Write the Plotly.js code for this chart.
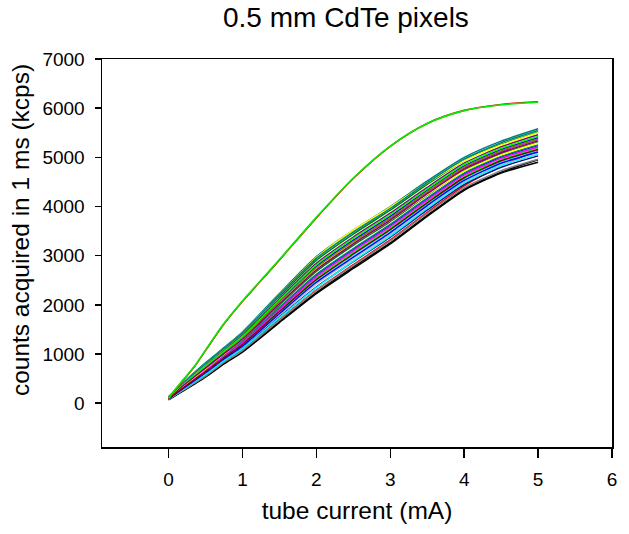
<!DOCTYPE html>
<html>
<head>
<meta charset="utf-8">
<script src="https://cdn.plot.ly/plotly-3.0.1.min.js"></script>
<style>html,body{margin:0;padding:0;background:#fff;}#chart{width:629px;height:534px;}</style>
</head>
<body>
<div id="chart"></div>
<script>
// tube current (mA) sample points for the bundle of pixels
const currentMA = [0, 0.2, 0.5, 0.75, 1, 1.5, 2, 2.5, 3, 3.5, 4, 4.5, 5];
// sample points for the two upper pixels
const currentUpperMA = [0, 0.1, 0.2, 0.35, 0.5, 0.75, 1, 1.25, 1.5, 2, 2.5, 3, 3.5, 4, 4.5, 5];

// counts acquired in 1 ms (kcps), lower bundle
const pix01 = [70, 250, 530, 800, 1040, 1640, 2230, 2740, 3240, 3800, 4330, 4680, 4900];
const pix02 = [75, 260, 540, 810, 1050, 1660, 2250, 2770, 3260, 3820, 4350, 4700, 4950];
const pix03 = [80, 265, 550, 830, 1070, 1690, 2290, 2800, 3300, 3860, 4380, 4730, 4960];
const pix04 = [80, 270, 560, 840, 1090, 1700, 2300, 2820, 3320, 3880, 4420, 4820, 5150];
const pix05 = [80, 280, 580, 860, 1110, 1750, 2360, 2880, 3380, 3930, 4450, 4800, 5030];
const pix06 = [85, 285, 580, 860, 1110, 1740, 2350, 2890, 3400, 3960, 4480, 4830, 5060];
const pix07 = [85, 295, 600, 885, 1140, 1790, 2420, 2935, 3430, 3980, 4500, 4840, 5070];
const pix08 = [90, 300, 620, 900, 1160, 1820, 2460, 2970, 3470, 4020, 4530, 4880, 5110];
const pix09 = [90, 310, 630, 915, 1180, 1850, 2490, 3010, 3510, 4050, 4560, 4910, 5140];
const pix10 = [95, 315, 640, 925, 1195, 1865, 2515, 3035, 3530, 4075, 4585, 4930, 5160];
const pix11 = [95, 320, 650, 940, 1210, 1890, 2545, 3070, 3560, 4100, 4610, 4950, 5190];
const pix12 = [100, 330, 665, 950, 1230, 1910, 2575, 3100, 3590, 4130, 4640, 4980, 5210];
const pix13 = [100, 335, 675, 965, 1245, 1935, 2605, 3130, 3620, 4160, 4665, 5005, 5240];
const pix14 = [100, 340, 680, 970, 1255, 1945, 2620, 3145, 3635, 4175, 4680, 5020, 5250];
const pix15 = [105, 350, 700, 1000, 1300, 2020, 2720, 3250, 3720, 4240, 4720, 5050, 5290];
const pix16 = [105, 350, 705, 1000, 1285, 1995, 2680, 3210, 3695, 4230, 4730, 5070, 5310];
const pix17 = [110, 360, 715, 1010, 1300, 2020, 2710, 3240, 3725, 4260, 4760, 5095, 5335];
const pix18 = [110, 365, 725, 1025, 1320, 2040, 2740, 3270, 3755, 4290, 4785, 5120, 5360];
const pix19 = [110, 370, 735, 1030, 1325, 2055, 2755, 3285, 3770, 4305, 4800, 5135, 5375];
const pix20 = [115, 375, 745, 1045, 1345, 2075, 2785, 3315, 3800, 4335, 4825, 5160, 5400];
const pix21 = [115, 385, 755, 1055, 1360, 2100, 2815, 3350, 3835, 4360, 4855, 5185, 5430];
const pix22 = [120, 390, 770, 1070, 1375, 2125, 2845, 3380, 3865, 4390, 4880, 5215, 5460];
const pix23 = [125, 410, 800, 1110, 1430, 2200, 2960, 3520, 3990, 4480, 4930, 5250, 5500];
const pix24 = [125, 405, 790, 1095, 1410, 2170, 2905, 3440, 3925, 4450, 4935, 5265, 5510];
const pix25 = [125, 410, 805, 1115, 1430, 2200, 2945, 3480, 3960, 4485, 4965, 5300, 5545];
const pix26 = [130, 420, 820, 1130, 1450, 2230, 2980, 3520, 4000, 4520, 5000, 5330, 5580];

// the two upper pixels (red underneath green)
const upperRed   = [90, 290, 470, 740, 1070, 1610, 2070, 2490, 2910, 3770, 4570, 5225, 5690, 5955, 6075, 6130];
const upperGreen = [100, 300, 480, 750, 1080, 1620, 2080, 2500, 2920, 3780, 4580, 5230, 5690, 5950, 6070, 6120];

// drawing order (back to front) and colours of the bundle
const bundle = [pix26, pix01, pix13, pix04, pix20, pix07, pix16, pix02, pix11, pix24, pix05, pix18, pix09,
                pix22, pix03, pix14, pix19, pix06, pix12, pix21, pix08, pix15, pix10, pix17, pix23, pix25];
const bundleColors = ['#008080', '#000000', '#0000ff', '#ff0000', '#0000ff', '#c0c0c0', '#008000', '#000000',
                      '#00ff00', '#008000', '#000080', '#ff00ff', '#00ffff', '#800080', '#808080', '#008080',
                      '#808000', '#00ffff', '#ff00ff', '#00ff00', '#0000ff', '#ffff00', '#800000', '#800080',
                      '#ffff00', '#008080'];

const traces = [];
bundle.forEach(function (vals, i) {
  traces.push({x: currentMA, y: vals, type: 'scatter', mode: 'lines',
    line: {color: bundleColors[i], width: 1.5, shape: 'spline', smoothing: 0.6},
    hoverinfo: 'none', showlegend: false});
});
traces.push({x: currentUpperMA, y: upperRed, type: 'scatter', mode: 'lines',
  line: {color: '#ff0000', width: 1.6, shape: 'spline', smoothing: 0.8}, showlegend: false});
traces.push({x: currentUpperMA, y: upperGreen, type: 'scatter', mode: 'lines',
  line: {color: '#00ee00', width: 1.6, shape: 'spline', smoothing: 0.8}, showlegend: false});

const fontFam = '"Liberation Sans", Arial, sans-serif';
const layout = {
  width: 629, height: 534,
  paper_bgcolor: '#ffffff', plot_bgcolor: '#ffffff',
  margin: {l: 102, r: 17, t: 59, b: 87, pad: 0},
  showlegend: false,
  font: {family: fontFam, color: '#000000', size: 19},
  title: {text: '0.5 mm CdTe pixels', font: {family: fontFam, size: 28, color: '#000'},
          x: 0.55, xanchor: 'center', xref: 'container', y: 0.968, yanchor: 'middle', yref: 'container'},
  xaxis: {
    range: [-0.9, 6], tickvals: [0, 1, 2, 3, 4, 5, 6], ticktext: ['0', '1', '2', '3', '4', '5', '6'],
    showgrid: false, zeroline: false, showline: true, linecolor: '#000', linewidth: 1.5, mirror: true,
    ticks: 'outside', ticklen: 9, tickwidth: 1.5, tickcolor: '#000', ticklabelstandoff: 6,
    tickfont: {family: fontFam, size: 19, color: '#000'},
    title: {text: 'tube current (mA)', font: {family: fontFam, size: 24.5, color: '#000'}, standoff: 12}
  },
  yaxis: {
    range: [-890, 7000], tickvals: [0, 1000, 2000, 3000, 4000, 5000, 6000, 7000],
    ticktext: ['0', '1000', '2000', '3000', '4000', '5000', '6000', '7000'],
    showgrid: false, zeroline: false, showline: true, linecolor: '#000', linewidth: 1.5, mirror: true,
    ticks: 'outside', ticklen: 6, tickwidth: 1.5, tickcolor: '#000', ticklabelstandoff: 6,
    tickfont: {family: fontFam, size: 19, color: '#000'}
  },
  annotations: [{
    text: 'counts acquired in 1 ms (kcps)', textangle: -90, showarrow: false,
    xref: 'paper', yref: 'paper', x: -0.16, y: 0.56, xanchor: 'center', yanchor: 'middle',
    font: {family: fontFam, size: 24.5, color: '#000'}
  }]
};
Plotly.newPlot('chart', traces, layout, {staticPlot: true, displayModeBar: false});
</script>
</body>
</html>
